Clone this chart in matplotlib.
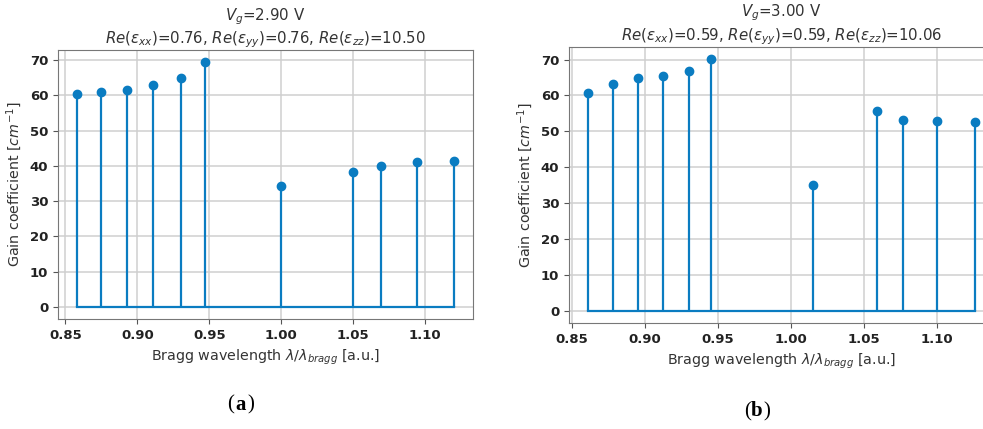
import matplotlib
matplotlib.use("Agg")
import matplotlib.pyplot as plt

# panel (a)
wl_a = [0.858, 0.875, 0.893, 0.911, 0.930, 0.947, 1.000, 1.050, 1.069, 1.094, 1.120]
gain_a = [60.5, 61.0, 61.5, 62.9, 65.0, 69.4, 34.2, 38.3, 39.9, 41.0, 41.5]
title_a = "$V_g$=2.90 V\n$Re(\\epsilon_{xx})$=0.76, $Re(\\epsilon_{yy})$=0.76, $Re(\\epsilon_{zz})$=10.50"

# panel (b)
wl_b = [0.861, 0.878, 0.895, 0.912, 0.930, 0.945, 1.015, 1.059, 1.077, 1.100, 1.126]
gain_b = [60.8, 63.3, 64.8, 65.4, 66.8, 70.1, 35.0, 55.6, 53.2, 52.8, 52.5]
title_b = "$V_g$=3.00 V\n$Re(\\epsilon_{xx})$=0.59, $Re(\\epsilon_{yy})$=0.59, $Re(\\epsilon_{zz})$=10.06"

xticks = [0.85, 0.90, 0.95, 1.00, 1.05, 1.10]
yticks = [0, 10, 20, 30, 40, 50, 60, 70]

blue = "#0a7cc1"

fig = plt.figure(figsize=(9.83, 4.29), dpi=100)
ax1 = fig.add_axes([0.059, 0.2564, 0.4222, 0.627])
ax2 = fig.add_axes([0.5788, 0.2464, 0.4323, 0.6448])


def draw(ax, x, y, title):
    ml, sl, bl = ax.stem(x, y, linefmt="-", markerfmt="o", basefmt="-")
    plt.setp(sl, color=blue, linewidth=1.6)
    plt.setp(ml, color=blue, markersize=6)
    plt.setp(bl, color=blue, linewidth=1.6)
    ax.set_xticks(xticks)
    ax.set_xticklabels(["%.2f" % t for t in xticks], fontweight="bold", fontsize=9.5)
    ax.set_yticks(yticks)
    ax.set_yticklabels([str(t) for t in yticks], fontweight="bold", fontsize=9.5)
    ax.grid(True, color="#cfcfcf", linewidth=1.1)
    ax.set_axisbelow(True)
    for s in ax.spines.values():
        s.set_color("#777777")
    ax.tick_params(colors="#555555", labelcolor="#222222", length=3.5)
    ax.set_xlabel("Bragg wavelength $\\lambda/\\lambda_{bragg}$ [a.u.]", fontsize=10.3, color="#333333")
    ax.set_ylabel("Gain coefficient [$cm^{-1}$]", fontsize=10.3, color="#333333")
    ax.set_title(title, fontsize=10.8, color="#333333", linespacing=1.2, pad=3)


draw(ax1, wl_a, gain_a, title_a)
draw(ax2, wl_b, gain_b, title_b)


def caption(x, y, letter):
    fig.text(x - 0.0065, y, "(", ha="right", va="baseline", fontsize=15, family="Liberation Serif")
    fig.text(x, y, letter, ha="center", va="baseline", fontsize=15, family="Liberation Serif",
             fontweight="bold")
    fig.text(x + 0.007, y, ")", ha="left", va="baseline", fontsize=15, family="Liberation Serif")


caption(0.2445, 0.045, "a")
caption(0.770, 0.030, "b")

plt.savefig("out.png")
